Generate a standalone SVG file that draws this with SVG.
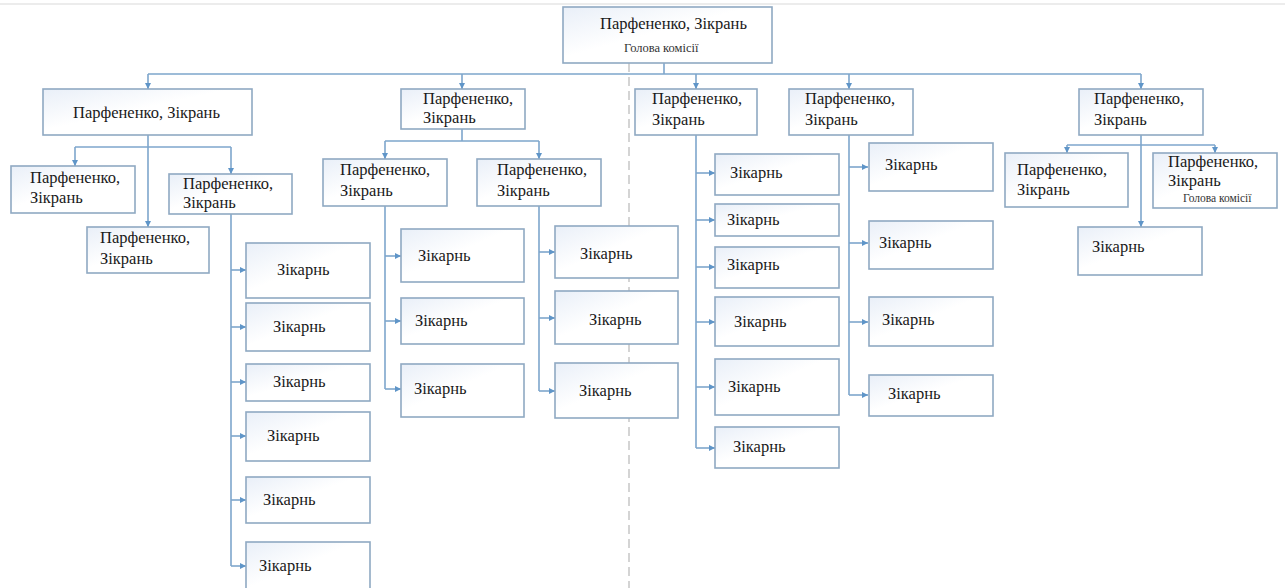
<svg xmlns="http://www.w3.org/2000/svg" width="1285" height="588" viewBox="0 0 1285 588">
<defs>
<linearGradient id="bg" x1="0" y1="0" x2="1" y2="1">
<stop offset="0" stop-color="#e9eff8"/>
<stop offset="0.45" stop-color="#ffffff"/>
<stop offset="1" stop-color="#ffffff"/>
</linearGradient>
<marker id="ar" markerWidth="7" markerHeight="6" refX="6" refY="3" orient="auto" markerUnits="userSpaceOnUse">
<path d="M0,0 L6,3 L0,6 z" fill="#5f95c8"/>
</marker>
<style>
.b{fill:url(#bg);stroke:#8fa9c2;stroke-width:1.6}
.t{font-family:"Liberation Serif","DejaVu Serif",serif;font-size:16.5px;fill:#1a1a1a}
.s{font-family:"Liberation Serif","DejaVu Serif",serif;font-size:12.5px;fill:#333}
.s2{font-family:"Liberation Serif","DejaVu Serif",serif;font-size:11.5px;fill:#333}
.c{fill:none;stroke:#7ea6cc;stroke-width:1.6}
.a{fill:none;stroke:#7ea6cc;stroke-width:1.6;marker-end:url(#ar)}
</style>
</defs>
<rect width="1285" height="588" fill="#ffffff"/>
<line x1="0" y1="4" x2="1285" y2="4" stroke="#e6e6e6" stroke-width="1.5"/>
<line x1="629" y1="63" x2="629" y2="588" stroke="#bdbdbd" stroke-width="1.3" stroke-dasharray="9,5"/>

<g id="connectors">
<path class="c" d="M664,63 V74 M148,74 H1141"/>
<path class="a" d="M148,74 V89"/>
<path class="a" d="M462,74 V89"/>
<path class="a" d="M696,74 V89"/>
<path class="a" d="M849,74 V89"/>
<path class="a" d="M1141,74 V89"/>
<path class="c" d="M75,147 H231"/>
<path class="a" d="M75,147 V166"/>
<path class="a" d="M231,147 V174"/>
<path class="a" d="M148,135 V227"/>
<path class="c" d="M231,214 V566"/>
<path class="a" d="M231,270 H246"/>
<path class="a" d="M231,327 H246"/>
<path class="a" d="M231,382 H246"/>
<path class="a" d="M231,436 H246"/>
<path class="a" d="M231,500 H246"/>
<path class="a" d="M231,566 H246"/>
<path class="c" d="M462,129 V141 M385,141 H539"/>
<path class="a" d="M385,141 V159"/>
<path class="a" d="M539,141 V159"/>
<path class="c" d="M385,206 V389"/>
<path class="a" d="M385,256 H401"/>
<path class="a" d="M385,321 H401"/>
<path class="a" d="M385,389 H401"/>
<path class="c" d="M539,206 V391"/>
<path class="a" d="M539,252 H555"/>
<path class="a" d="M539,318 H555"/>
<path class="a" d="M539,391 H555"/>
<path class="c" d="M696,135 V448"/>
<path class="a" d="M696,173 H715"/>
<path class="a" d="M696,220 H715"/>
<path class="a" d="M696,267 H715"/>
<path class="a" d="M696,322 H715"/>
<path class="a" d="M696,387 H715"/>
<path class="a" d="M696,448 H715"/>
<path class="c" d="M849,135 V395"/>
<path class="a" d="M849,167 H868"/>
<path class="a" d="M849,243 H868"/>
<path class="a" d="M849,322 H868"/>
<path class="a" d="M849,395 H868"/>
<path class="c" d="M1067,145 H1215"/>
<path class="a" d="M1067,145 V153"/>
<path class="a" d="M1215,145 V153"/>
<path class="a" d="M1141,135 V227"/>
</g>

<g id="n-top"><rect class="b" x="563" y="7" width="209" height="56"/><text class="t" x="600" y="29">Парфененко, Зікрань</text><text class="s" x="624" y="52">Голова комісії</text></g>

<g id="n-a"><rect class="b" x="43" y="89" width="209" height="46"/><text class="t" x="73" y="118">Парфененко, Зікрань</text></g>
<g id="n-a1"><rect class="b" x="11" y="166" width="124" height="47"/><text class="t" x="30" y="183">Парфененко,</text><text class="t" x="30" y="203">Зікрань</text></g>
<g id="n-a2"><rect class="b" x="169" y="174" width="123" height="40"/><text class="t" x="183" y="189">Парфененко,</text><text class="t" x="183" y="208">Зікрань</text></g>
<g id="n-a3"><rect class="b" x="87" y="227" width="122" height="46"/><text class="t" x="100" y="243">Парфененко,</text><text class="t" x="100" y="264">Зікрань</text></g>
<g id="n-a2-1"><rect class="b" x="246" y="243" width="124" height="55"/><text class="t" x="277" y="275">Зікарнь</text></g>
<g id="n-a2-2"><rect class="b" x="246" y="303" width="124" height="48"/><text class="t" x="273" y="332">Зікарнь</text></g>
<g id="n-a2-3"><rect class="b" x="246" y="364" width="124" height="37"/><text class="t" x="273" y="387">Зікарнь</text></g>
<g id="n-a2-4"><rect class="b" x="246" y="412" width="124" height="49"/><text class="t" x="267" y="441">Зікарнь</text></g>
<g id="n-a2-5"><rect class="b" x="246" y="477" width="124" height="46"/><text class="t" x="263" y="505">Зікарнь</text></g>
<g id="n-a2-6"><rect class="b" x="246" y="542" width="124" height="52"/><text class="t" x="259" y="571">Зікарнь</text></g>

<g id="n-b"><rect class="b" x="401" y="89" width="124" height="40"/><text class="t" x="423" y="104">Парфененко,</text><text class="t" x="423" y="123">Зікрань</text></g>
<g id="n-b1"><rect class="b" x="323" y="159" width="124" height="47"/><text class="t" x="340" y="175">Парфененко,</text><text class="t" x="340" y="196">Зікрань</text></g>
<g id="n-b2"><rect class="b" x="477" y="159" width="124" height="47"/><text class="t" x="497" y="175">Парфененко,</text><text class="t" x="497" y="196">Зікрань</text></g>
<g id="n-b1-1"><rect class="b" x="401" y="229" width="123" height="53"/><text class="t" x="418" y="261">Зікарнь</text></g>
<g id="n-b1-2"><rect class="b" x="401" y="298" width="123" height="46"/><text class="t" x="415" y="326">Зікарнь</text></g>
<g id="n-b1-3"><rect class="b" x="401" y="364" width="123" height="53"/><text class="t" x="414" y="394">Зікарнь</text></g>
<g id="n-b2-1"><rect class="b" x="555" y="226" width="123" height="52"/><text class="t" x="580" y="259">Зікарнь</text></g>
<g id="n-b2-2"><rect class="b" x="555" y="291" width="123" height="53"/><text class="t" x="589" y="325">Зікарнь</text></g>
<g id="n-b2-3"><rect class="b" x="555" y="363" width="123" height="55"/><text class="t" x="579" y="396">Зікарнь</text></g>

<g id="n-c"><rect class="b" x="635" y="89" width="122" height="46"/><text class="t" x="652" y="104">Парфененко,</text><text class="t" x="652" y="125">Зікрань</text></g>
<g id="n-c-1"><rect class="b" x="715" y="154" width="124" height="41"/><text class="t" x="730" y="178">Зікарнь</text></g>
<g id="n-c-2"><rect class="b" x="715" y="204" width="124" height="32"/><text class="t" x="727" y="225">Зікарнь</text></g>
<g id="n-c-3"><rect class="b" x="715" y="247" width="124" height="41"/><text class="t" x="727" y="270">Зікарнь</text></g>
<g id="n-c-4"><rect class="b" x="715" y="297" width="124" height="49"/><text class="t" x="734" y="327">Зікарнь</text></g>
<g id="n-c-5"><rect class="b" x="715" y="359" width="124" height="56"/><text class="t" x="728" y="392">Зікарнь</text></g>
<g id="n-c-6"><rect class="b" x="715" y="427" width="124" height="41"/><text class="t" x="733" y="452">Зікарнь</text></g>

<g id="n-d"><rect class="b" x="789" y="89" width="124" height="46"/><text class="t" x="805" y="104">Парфененко,</text><text class="t" x="805" y="125">Зікрань</text></g>
<g id="n-d-1"><rect class="b" x="869" y="143" width="124" height="48"/><text class="t" x="885" y="170">Зікарнь</text></g>
<g id="n-d-2"><rect class="b" x="869" y="221" width="124" height="48"/><text class="t" x="879" y="248">Зікарнь</text></g>
<g id="n-d-3"><rect class="b" x="869" y="297" width="124" height="49"/><text class="t" x="882" y="325">Зікарнь</text></g>
<g id="n-d-4"><rect class="b" x="869" y="375" width="124" height="41"/><text class="t" x="888" y="399">Зікарнь</text></g>

<g id="n-e"><rect class="b" x="1079" y="89" width="124" height="46"/><text class="t" x="1094" y="104">Парфененко,</text><text class="t" x="1094" y="125">Зікрань</text></g>
<g id="n-e1"><rect class="b" x="1005" y="153" width="123" height="54"/><text class="t" x="1017" y="175">Парфененко,</text><text class="t" x="1017" y="195">Зікрань</text></g>
<g id="n-e2"><rect class="b" x="1153" y="153" width="124" height="55"/><text class="t" x="1168" y="167">Парфененко,</text><text class="t" x="1168" y="186">Зікрань</text><text class="s2" x="1183" y="202">Голова комісії</text></g>
<g id="n-e3"><rect class="b" x="1078" y="227" width="124" height="48"/><text class="t" x="1092" y="252">Зікарнь</text></g>
</svg>
